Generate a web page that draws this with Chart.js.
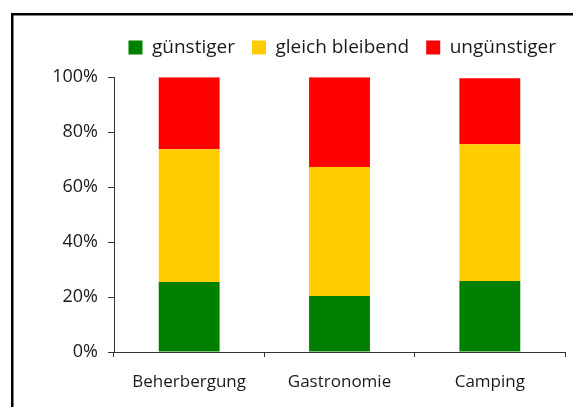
<!DOCTYPE html>
<html>
<head>
<meta charset="utf-8">
<script src="https://cdn.jsdelivr.net/npm/chart.js@4/dist/chart.umd.min.js"></script>
<style>
  html, body { margin: 0; padding: 0; background: #ffffff; }
  #wrap { position: relative; width: 573px; height: 407px; }
</style>
</head>
<body>
<div id="wrap"><canvas id="c" width="573" height="407"></canvas></div>
<script>
const categories = ['Beherbergung', 'Gastronomie', 'Camping'];
const seriesNames = ['günstiger', 'gleich bleibend', 'ungünstiger'];
const guenstiger = [25.5, 20.4, 25.8];
const gleichBleibend = [48.3, 46.9, 49.8];
const unguenstiger = [26.2, 32.7, 24.0];
const yTicks = [0, 20, 40, 60, 80, 100];
const colors = ['#008000', '#FFCC00', '#FF0000'];

const FONT = '"Open Sans", "DejaVu Sans", sans-serif';
const TEXT = '#1a1a1a';
const AXIS = '#333333';

const frame = {
  id: 'frame',
  afterDraw(chart) {
    const ctx = chart.ctx;
    ctx.save();
    ctx.fillStyle = '#000000';
    ctx.fillRect(11, 13, 573 - 11, 2.5);
    ctx.fillRect(11, 13, 2.5, 407 - 13);
    ctx.restore();
  }
};

new Chart(document.getElementById('c'), {
  type: 'bar',
  data: {
    labels: categories,
    datasets: [
      { label: seriesNames[0], data: guenstiger, backgroundColor: colors[0] },
      { label: seriesNames[1], data: gleichBleibend, backgroundColor: colors[1] },
      { label: seriesNames[2], data: unguenstiger, backgroundColor: colors[2] }
    ]
  },
  options: {
    responsive: false,
    animation: false,
    devicePixelRatio: 1,
    layout: { padding: { left: 0, right: 0, top: 21, bottom: 0 } },
    datasets: { bar: { barPercentage: 0.405, categoryPercentage: 1.0 } },
    plugins: {
      legend: {
        position: 'top',
        align: 'end',
        fullSize: true,
        weight: 1000,
        labels: {
          boxWidth: 14,
          boxHeight: 14,
          padding: 17,
          color: TEXT,
          font: { family: FONT, size: 19 }
        }
      },
      subtitle: {
        display: true,
        text: '',
        position: 'top',
        fullSize: true,
        weight: 500,
        font: { size: 1 },
        padding: { top: 0, bottom: 9 }
      },
      tooltip: { enabled: false },
      title: { display: false }
    },
    scales: {
      x: {
        stacked: true,
        afterFit(scale) { scale.height = 55; scale.paddingRight = 8; },
        grid: {
          offset: true,
          drawOnChartArea: false,
          drawTicks: true,
          tickLength: 5,
          color: AXIS
        },
        border: { display: true, color: AXIS, width: 1 },
        ticks: { color: TEXT, font: { family: FONT, size: 17 }, padding: 15, maxRotation: 0 }
      },
      y: {
        stacked: true,
        min: 0,
        max: 100,
        afterFit(scale) { scale.width = 114; },
        afterBuildTicks(scale) { scale.ticks = yTicks.map(v => ({ value: v })); },
        grid: {
          drawOnChartArea: false,
          drawTicks: true,
          tickLength: 6,
          color: AXIS
        },
        border: { display: true, color: AXIS, width: 1 },
        ticks: {
          color: TEXT,
          font: { family: FONT, size: 18 },
          padding: 10,
          callback: v => v + '%'
        }
      }
    }
  },
  plugins: [frame]
});
</script>
</body>
</html>
